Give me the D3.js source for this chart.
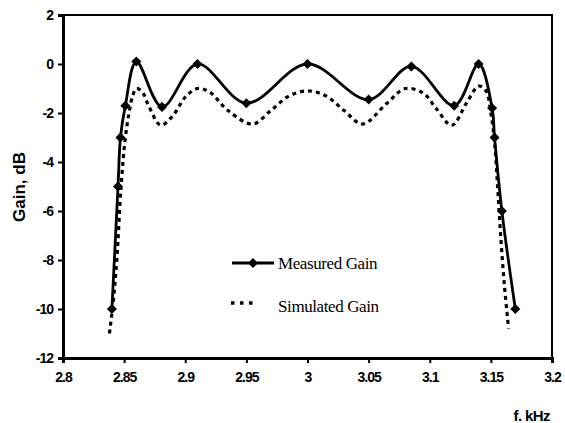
<!DOCTYPE html>
<html lang="en">
<head>
<meta charset="UTF-8">
<title>Gain vs frequency</title>
<script src="https://d3js.org/d3.v7.min.js"></script>
<style>
  body { margin: 0; background: #fff; }
  svg { display: block; }
  .tick text { font-family: "Liberation Sans", Arial, sans-serif; font-weight: bold; font-size: 14px; letter-spacing: -1px; fill: #000; }
</style>
</head>
<body>
<script>
// measured points (diamonds)
const measFreq = [2.84, 2.845, 2.847, 2.851, 2.86, 2.881, 2.91, 2.95, 3.0, 3.05, 3.085, 3.12, 3.14, 3.151, 3.153, 3.159, 3.17];
const measGain = [-10, -5, -3, -1.7, 0.1, -1.75, 0, -1.6, 0, -1.45, -0.1, -1.7, 0, -1.8, -3, -6, -10];

// simulated curve
const simFreq = [2.838, 2.8415, 2.844, 2.8475, 2.851, 2.854, 2.857, 2.86, 2.865, 2.87, 2.88, 2.89, 2.9, 2.91, 2.92, 2.935, 2.955, 2.97, 2.985, 3.0, 3.015, 3.03, 3.045, 3.065, 3.08, 3.095, 3.105, 3.118, 3.13, 3.14, 3.146, 3.15, 3.153, 3.1555, 3.158, 3.161, 3.1645];
const simGain = [-11, -9.5, -8, -5, -3, -2, -1.3, -1, -1.15, -1.7, -2.5, -2.1, -1.35, -1, -1.15, -1.9, -2.45, -1.9, -1.3, -1.1, -1.3, -1.9, -2.45, -1.6, -1, -1.2, -1.8, -2.5, -1.6, -0.9, -1.1, -2, -3.2, -5, -7, -9, -10.8];

const xTicks = [2.8, 2.85, 2.9, 2.95, 3, 3.05, 3.1, 3.15, 3.2];
const yTicks = [2, 0, -2, -4, -6, -8, -10, -12];

const W = 565, H = 423;
const svg = d3.select("body").append("svg").attr("width", W).attr("height", H);

const x = d3.scaleLinear().domain([2.8, 3.2]).range([63, 552]);
const y = d3.scaleLinear().domain([-12, 2]).range([358, 15]);

// frame (top and right)
svg.append("path")
  .attr("d", `M${x(2.8)},${y(2)}H${x(3.2)}V${y(-12)}`)
  .attr("fill", "none").attr("stroke", "#000").attr("stroke-width", 2);

// axes
const xAxis = svg.append("g").attr("transform", `translate(0,${y(-12)})`)
  .call(d3.axisBottom(x).tickValues(xTicks).tickSize(5).tickPadding(9).tickFormat(d => String(d)));
const yAxis = svg.append("g").attr("transform", `translate(${x(2.8)},0)`)
  .call(d3.axisLeft(y).tickValues(yTicks).tickSize(5).tickPadding(5).tickFormat(d => String(d)));
[xAxis, yAxis].forEach(g => {
  g.select(".domain").attr("stroke-width", 3);
  g.selectAll(".tick line").attr("stroke-width", 2);
});

// curves
const lineGen = d3.line().x(d => x(d[0])).y(d => y(d[1])).curve(d3.curveCatmullRom.alpha(0.5));
const simPts = simFreq.map((f, i) => [f, simGain[i]]);
const measPts = measFreq.map((f, i) => [f, measGain[i]]);

svg.append("path").datum(simPts).attr("d", lineGen)
  .attr("fill", "none").attr("stroke", "#000").attr("stroke-width", 3.2)
  .attr("stroke-dasharray", "4,4");

svg.append("path").datum(measPts).attr("d", lineGen)
  .attr("fill", "none").attr("stroke", "#000").attr("stroke-width", 2.8);

const diamond = d3.symbol().type(d3.symbolDiamond2).size(64);
svg.selectAll(".pt").data(measPts).enter().append("path")
  .attr("d", diamond)
  .attr("transform", d => `translate(${x(d[0])},${y(d[1])})`)
  .attr("fill", "#000");

// legend
const leg = svg.append("g");
leg.append("line").attr("x1", 232).attr("x2", 274).attr("y1", 263).attr("y2", 263)
  .attr("stroke", "#000").attr("stroke-width", 2.8);
leg.append("path").attr("d", diamond).attr("transform", "translate(253,263)");
leg.append("line").attr("x1", 231).attr("x2", 256).attr("y1", 303).attr("y2", 303)
  .attr("stroke", "#000").attr("stroke-width", 3.5).attr("stroke-dasharray", "3.5,5.5");
leg.selectAll("text").data(["Measured Gain", "Simulated Gain"]).enter().append("text")
  .attr("x", 278).attr("y", (d, i) => 269 + i * 43)
  .attr("font-family", "'Liberation Serif', 'Times New Roman', serif")
  .attr("font-size", 17).attr("letter-spacing", -0.4)
  .text(d => d);

// axis titles
svg.append("text")
  .attr("transform", `translate(25,187) rotate(-90)`)
  .attr("text-anchor", "middle")
  .attr("font-family", "'Liberation Sans', Arial, sans-serif").attr("font-weight", "bold").attr("font-size", 17)
  .text("Gain, dB");
svg.append("text")
  .attr("x", 550).attr("y", 421).attr("text-anchor", "end")
  .attr("font-family", "'Liberation Sans', Arial, sans-serif").attr("font-weight", "bold").attr("font-size", 15)
  .attr("letter-spacing", -0.6)
  .text("f. kHz");
</script>
</body>
</html>
